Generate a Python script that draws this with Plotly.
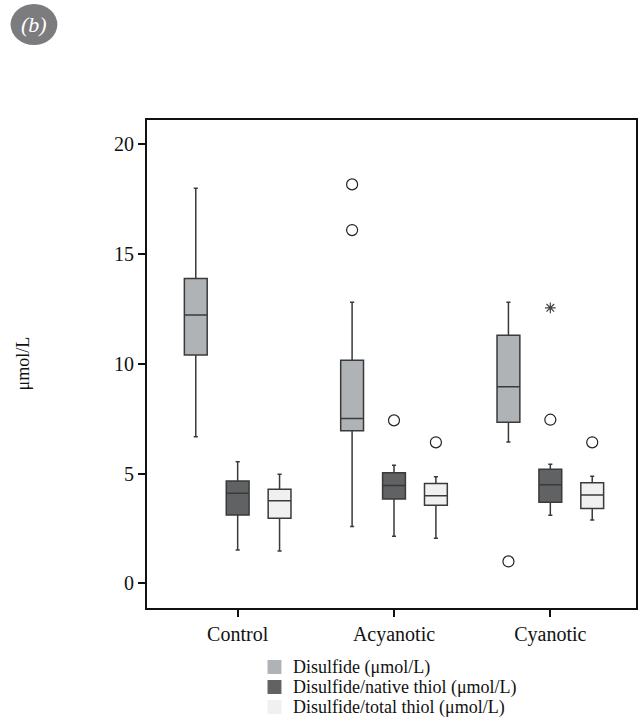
import plotly.graph_objects as go

groups = ["Control", "Acyanotic", "Cyanotic"]
series = ["Disulfide (μmol/L)", "Disulfide/native thiol (μmol/L)", "Disulfide/total thiol (μmol/L)"]
colors = ["#b0b3b6", "#616264", "#f0f0f0"]

# box statistics per series: [Control, Acyanotic, Cyanotic]
lower = [[6.67, 2.59, 6.43], [1.52, 2.14, 3.10], [1.47, 2.05, 2.88]]
q1 = [[10.39, 6.95, 7.33], [3.11, 3.84, 3.69], [2.96, 3.56, 3.41]]
med = [[12.21, 7.51, 8.95], [4.10, 4.46, 4.49], [3.76, 3.99, 4.02]]
q3 = [[13.88, 10.16, 11.29], [4.66, 5.03, 5.19], [4.29, 4.55, 4.58]]
upper = [[17.98, 12.79, 12.79], [5.54, 5.38, 5.42], [4.97, 4.85, 4.88]]

# outliers: (series index, group index, value)
outliers = [(0, 1, 18.16), (0, 1, 16.08), (0, 2, 1.00),
            (1, 1, 7.42), (1, 2, 7.45),
            (2, 1, 6.42), (2, 2, 6.42)]
extremes = [(1, 2, 12.54)]

offsets = [-0.268, 0.0, 0.268]
box_w = 0.146

W, H = 644, 717
ML, MR, MT, MB = 147, 6, 120, 109
PW, PH = W - ML - MR, H - MT - MB


def px(x):
    return (x - ML) / PW


def py(y):
    return (H - MB - y) / PH


fig = go.Figure()
for s in range(3):
    xs = [g + offsets[s] for g in range(3)]
    fig.add_trace(go.Box(
        x=xs, q1=q1[s], median=med[s], q3=q3[s],
        lowerfence=lower[s], upperfence=upper[s],
        width=box_w, whiskerwidth=0.18,
        fillcolor=colors[s], line=dict(color="#3a3a3a", width=1.5),
        boxpoints=False, showlegend=False, hoverinfo="skip"))

fig.add_trace(go.Scatter(
    x=[g + offsets[s] for s, g, v in outliers], y=[v for s, g, v in outliers],
    mode="markers", marker=dict(symbol="circle-open", size=11, color="#222", line=dict(width=1.2)),
    showlegend=False, hoverinfo="skip"))
fig.add_trace(go.Scatter(
    x=[g + offsets[s] for s, g, v in extremes], y=[v for s, g, v in extremes],
    mode="markers", marker=dict(symbol="asterisk-open", size=9, color="#444", line=dict(width=1.2)),
    showlegend=False, hoverinfo="skip"))

font = "Liberation Serif, Times New Roman, serif"
fig.update_layout(
    width=W, height=H,
    margin=dict(l=ML, r=MR, t=MT, b=MB),
    paper_bgcolor="white", plot_bgcolor="white",
    font=dict(family=font, size=20, color="#111"),
    showlegend=False,
    xaxis=dict(range=[-0.58, 2.548], tickvals=[0, 1, 2], ticktext=groups,
               showgrid=False, zeroline=False, showline=True, mirror=True,
               linecolor="#111", linewidth=2, ticks="outside", ticklen=7,
               tickwidth=2, tickcolor="#111", tickfont=dict(size=20)),
    yaxis=dict(range=[-1.12, 21.09], tickvals=[0, 5, 10, 15, 20],
               showgrid=False, zeroline=False, showline=True, mirror=True,
               linecolor="#111", linewidth=2, ticks="outside", ticklen=7,
               tickwidth=2, tickcolor="#111", tickfont=dict(size=20)),
)

# manual legend (square swatches + text)
for s in range(3):
    cy = 667 + 20 * s
    fig.add_shape(type="rect", xref="paper", yref="paper",
                  x0=px(268), x1=px(282), y0=py(cy + 7), y1=py(cy - 7),
                  fillcolor=colors[s], line=dict(width=0))
    fig.add_annotation(text=series[s], xref="paper", yref="paper",
                       x=px(292), y=py(cy), xanchor="left", yanchor="middle",
                       showarrow=False, font=dict(family=font, size=18, color="#111"))

fig.add_annotation(text="μmol/L", xref="paper", yref="paper",
                   x=px(22), y=0.5, xanchor="center", yanchor="middle",
                   textangle=-90, showarrow=False,
                   font=dict(family=font, size=18, color="#111"))

# panel label
fig.add_shape(type="circle", xref="paper", yref="paper",
              x0=px(10), x1=px(57), y0=py(45), y1=py(4),
              fillcolor="#7c7c7e", line=dict(width=0))
fig.add_annotation(text="<i>(b)</i>", xref="paper", yref="paper",
                   x=px(33.5), y=py(24), xanchor="center", yanchor="middle",
                   showarrow=False,
                   font=dict(family=font, size=22, color="white"))

fig.write_html("out.html", config={"displayModeBar": False},
               post_script="document.body.style.margin='0';document.body.style.overflow='hidden';")
